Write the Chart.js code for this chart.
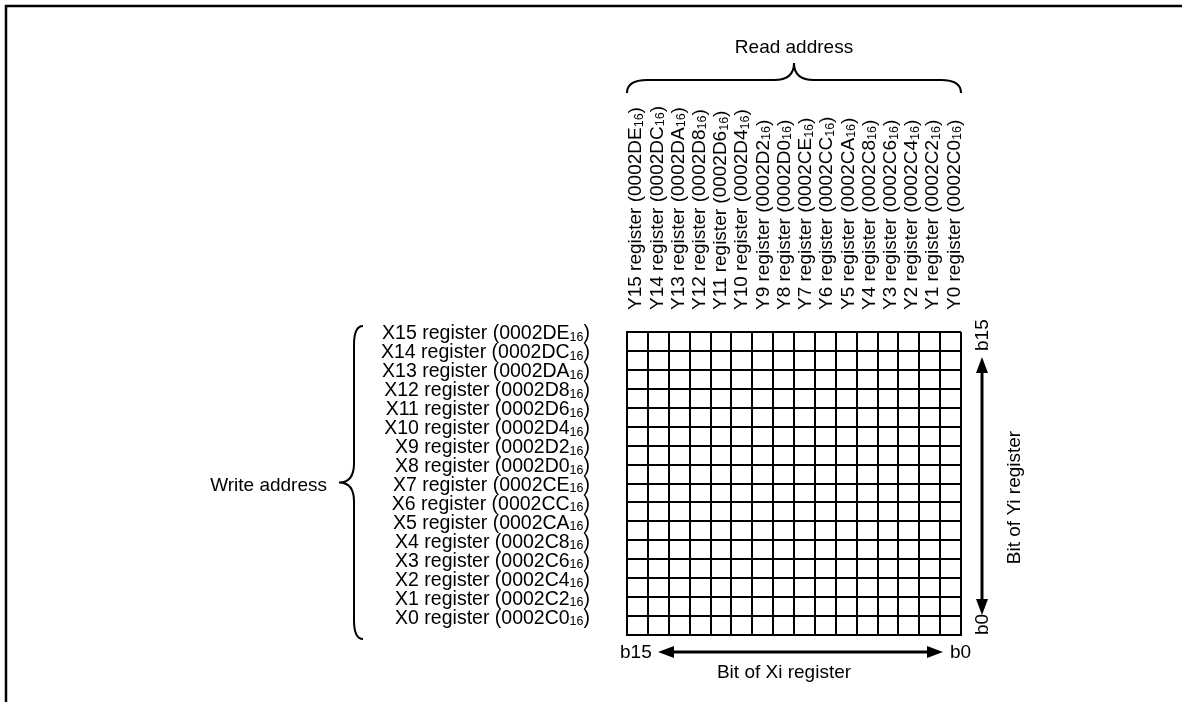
<!DOCTYPE html>
<html>
<head>
<meta charset="utf-8">
<script src="https://cdn.jsdelivr.net/npm/chart.js@4"></script>
<style>
  html, body { margin: 0; padding: 0; background: #fff; }
  canvas { display: block; }
</style>
</head>
<body>
<canvas id="matrix" width="1182" height="702"></canvas>
<script>
// read side (columns, left to right)
const READ_REGS = ["Y15", "Y14", "Y13", "Y12", "Y11", "Y10", "Y9", "Y8",
                   "Y7", "Y6", "Y5", "Y4", "Y3", "Y2", "Y1", "Y0"];
// write side (rows, top to bottom)
const WRITE_REGS = ["X15", "X14", "X13", "X12", "X11", "X10", "X9", "X8",
                    "X7", "X6", "X5", "X4", "X3", "X2", "X1", "X0"];
const ADDRESSES = ["0002DE", "0002DC", "0002DA", "0002D8", "0002D6", "0002D4", "0002D2", "0002D0",
                   "0002CE", "0002CC", "0002CA", "0002C8", "0002C6", "0002C4", "0002C2", "0002C0"];
const BIT_COUNT = 16;
const X_BIT_ENDS = ["b15", "b0"];
const Y_BIT_ENDS = ["b15", "b0"];
const TITLES = {
  read: "Read address",
  write: "Write address",
  xBits: "Bit of Xi register",
  yBits: "Bit of Yi register"
};

const FONT = '19px "Liberation Sans", Arial, sans-serif';
const ROW_FONT = '19.5px "Liberation Sans", Arial, sans-serif';
const SUB_FONT = '12.5px "Liberation Sans", Arial, sans-serif';

function regText(ctx, name, addr, x, y, align, font) {
  const main = name + " register (" + addr;
  ctx.font = font;
  const w1 = ctx.measureText(main).width;
  const w3 = ctx.measureText(")").width;
  ctx.font = SUB_FONT;
  const w2 = ctx.measureText("16").width;
  let sx = align === "right" ? x - (w1 + w2 + w3) : x;
  ctx.textAlign = "left";
  ctx.textBaseline = "alphabetic";
  ctx.font = font;
  ctx.fillText(main, sx, y);
  ctx.font = SUB_FONT;
  ctx.fillText("16", sx + w1, y + 1.5);
  ctx.font = font;
  ctx.fillText(")", sx + w1 + w2, y);
}

function rotText(ctx, txt, x, y, align) {
  ctx.save();
  ctx.translate(x, y);
  ctx.rotate(-Math.PI / 2);
  ctx.textAlign = align || "left";
  ctx.textBaseline = "alphabetic";
  ctx.fillText(txt, 0, 0);
  ctx.restore();
}

function hBrace(ctx, x1, x2, yEnd, yFlat, yTip, r) {
  const xm = (x1 + x2) / 2;
  ctx.beginPath();
  ctx.moveTo(x1, yEnd);
  ctx.quadraticCurveTo(x1, yFlat, x1 + r, yFlat);
  ctx.lineTo(xm - r, yFlat);
  ctx.quadraticCurveTo(xm, yFlat, xm, yTip);
  ctx.quadraticCurveTo(xm, yFlat, xm + r, yFlat);
  ctx.lineTo(x2 - r, yFlat);
  ctx.quadraticCurveTo(x2, yFlat, x2, yEnd);
  ctx.stroke();
}

function vBrace(ctx, y1, y2, xEnd, xFlat, xTip, r) {
  const ym = (y1 + y2) / 2;
  ctx.beginPath();
  ctx.moveTo(xEnd, y1);
  ctx.quadraticCurveTo(xFlat, y1, xFlat, y1 + r);
  ctx.lineTo(xFlat, ym - r);
  ctx.quadraticCurveTo(xFlat, ym, xTip, ym);
  ctx.quadraticCurveTo(xFlat, ym, xFlat, ym + r);
  ctx.lineTo(xFlat, y2 - r);
  ctx.quadraticCurveTo(xFlat, y2, xEnd, y2);
  ctx.stroke();
}

function head(ctx, tx, ty, dx, dy) {
  const len = 16, half = 6;
  const bx = tx - dx * len, by = ty - dy * len;
  ctx.beginPath();
  ctx.moveTo(tx, ty);
  ctx.lineTo(bx - dy * half, by + dx * half);
  ctx.lineTo(bx + dy * half, by - dx * half);
  ctx.closePath();
  ctx.fill();
}

function doubleArrow(ctx, x1, y1, x2, y2) {
  const d = Math.hypot(x2 - x1, y2 - y1);
  const dx = (x2 - x1) / d, dy = (y2 - y1) / d;
  ctx.beginPath();
  ctx.moveTo(x1 + dx * 10, y1 + dy * 10);
  ctx.lineTo(x2 - dx * 10, y2 - dy * 10);
  ctx.stroke();
  head(ctx, x2, y2, dx, dy);
  head(ctx, x1, y1, -dx, -dy);
}

const diagramPlugin = {
  id: "diagram",
  afterDraw(chart) {
    const { ctx, chartArea: a, scales: { x, y } } = chart;
    ctx.save();
    ctx.fillStyle = "#000";
    ctx.strokeStyle = "#000";

    // frame
    ctx.lineWidth = 2.5;
    ctx.beginPath();
    ctx.moveTo(6, 702);
    ctx.lineTo(6, 6);
    ctx.lineTo(1182, 6);
    ctx.stroke();

    // write register labels (rows)
    WRITE_REGS.forEach((r, i) => {
      const py = y.getPixelForValue(BIT_COUNT - 0.5 - i);
      regText(ctx, r, ADDRESSES[i], a.left - 37, py - 2, "right", ROW_FONT);
    });

    // read register labels (columns, rotated)
    READ_REGS.forEach((r, i) => {
      const px = x.getPixelForValue(i + 0.5) + (i - 7.5) * 0.35;
      ctx.save();
      ctx.translate(px + 6.5, a.top - 22);
      ctx.rotate(-Math.PI / 2);
      regText(ctx, r, ADDRESSES[i], 0, 0, "left", FONT);
      ctx.restore();
    });

    ctx.font = FONT;
    ctx.textBaseline = "alphabetic";

    // read brace + title
    ctx.lineWidth = 2;
    hBrace(ctx, a.left, a.right, a.top - 239, a.top - 252, a.top - 269, 20);
    ctx.textAlign = "center";
    ctx.fillText(TITLES.read, (a.left + a.right) / 2, a.top - 279);

    // write brace + title
    vBrace(ctx, a.top - 6, a.bottom + 4, a.left - 264, a.left - 273, a.left - 288, 19);
    ctx.textAlign = "right";
    ctx.fillText(TITLES.write, a.left - 300, (a.top + a.bottom) / 2 + 7);

    // bottom bit arrow
    ctx.lineWidth = 3;
    const ay = a.bottom + 17;
    doubleArrow(ctx, a.left + 31, ay, a.right - 18, ay);
    ctx.textAlign = "left";
    ctx.fillText(X_BIT_ENDS[0], a.left - 7, ay + 6);
    ctx.fillText(X_BIT_ENDS[1], a.right - 11, ay + 6);
    ctx.textAlign = "center";
    ctx.fillText(TITLES.xBits, (a.left + a.right) / 2 - 10, a.bottom + 43);

    // right bit arrow
    const ax = a.right + 21;
    doubleArrow(ctx, ax, a.top + 25, ax, a.bottom - 20);
    rotText(ctx, Y_BIT_ENDS[0], a.right + 27, a.top + 19, "left");
    rotText(ctx, Y_BIT_ENDS[1], a.right + 27, a.bottom, "left");
    rotText(ctx, TITLES.yBits, a.right + 59, (a.top + a.bottom) / 2 + 14, "center");

    ctx.restore();
  }
};

const axisStyle = {
  type: "linear",
  min: 0,
  max: BIT_COUNT,
  ticks: { stepSize: 1, display: false },
  grid: { color: "#000", lineWidth: 2, drawTicks: false },
  border: { color: "#000", width: 2 }
};

new Chart(document.getElementById("matrix"), {
  type: "scatter",
  data: { datasets: [{ data: [] }] },
  options: {
    responsive: false,
    animation: false,
    events: [],
    layout: { padding: { left: 627, top: 332, right: 221, bottom: 67 } },
    plugins: { legend: { display: false }, tooltip: { enabled: false } },
    scales: {
      x: { ...axisStyle, afterFit: s => { s.height = 0; } },
      y: { ...axisStyle, afterFit: s => { s.width = 0; } }
    }
  },
  plugins: [diagramPlugin]
});
</script>
</body>
</html>
